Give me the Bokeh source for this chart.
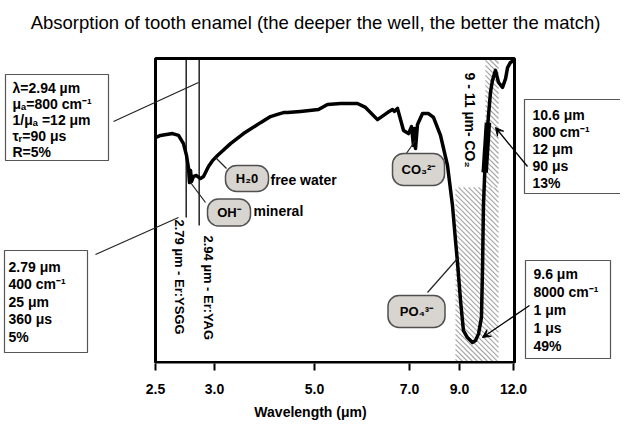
import numpy as np
from math import pi
from bokeh.plotting import figure
from bokeh.models import Range1d, FixedTicker, Arrow, VeeHead
from bokeh.core.properties import value
from bokeh.embed import file_html
from bokeh.resources import INLINE

# ---------------- data ----------------
TITLE = "Absorption of tooth enamel (the deeper the well, the better the match)"
X_LABEL = "Wavelength (μm)"
TICK_WL = [2.5, 3.0, 5.0, 7.0, 9.0, 12.0]
TICK_LABELS = ["2.5", "3.0", "5.0", "7.0", "9.0", "12.0"]

# absorption (transmission-style) curve of tooth enamel, relative units 0..100
CURVE_WL = [2.50, 2.542, 2.644, 2.695, 2.737, 2.763, 2.780, 2.788, 2.797, 2.805,
            2.822, 2.847, 2.881, 2.907, 2.949, 2.983, 3.06, 3.32, 3.58, 3.92,
            4.12, 4.26, 4.38, 4.46, 4.72, 5.084, 5.274, 5.547, 5.905, 6.074,
            6.326, 6.537, 6.642, 6.684, 6.747, 6.874, 6.979, 7.08, 7.16, 7.20,
            7.24, 7.32, 7.52, 7.76, 7.96, 8.24, 8.52, 8.72, 8.84, 8.92,
            9.056, 9.22, 9.44, 9.72, 9.89, 10.06, 10.22, 10.28, 10.33, 10.44,
            10.61, 10.72, 10.83, 11.0, 11.17, 11.39, 11.56, 11.67, 11.83, 12.0]
CURVE_T = [74.0, 74.7, 75.3, 74.7, 72.0, 68.1, 63.8, 59.2, 63.2, 59.5,
           61.2, 61.5, 60.5, 61.2, 64.5, 66.4, 68.1, 72.0, 75.3, 78.9,
           80.9, 81.6, 82.2, 82.2, 82.6, 83.2, 84.9, 85.2, 85.2, 83.9,
           79.9, 82.2, 83.2, 82.6, 83.6, 76.3, 75.3, 77.6, 71.4, 77.0,
           70.4, 78.3, 81.9, 81.9, 80.6, 74.7, 64.8, 51.6, 40.1, 32.9,
           20.4, 10.5, 8.2, 6.6, 7.2, 9.5, 14.8, 31.2, 51.6, 68.1,
           81.2, 88.8, 92.8, 96.1, 92.1, 90.5, 93.4, 97.0, 98.7, 99.3]

# emphasised CO2 laser segment (10.6 um)
THICK_WL = [10.40, 10.58]
THICK_T = [62.5, 78.9]

# Er laser wavelength markers (as drawn) and their lower ends
LASER_WL = [2.76, 2.87]
LASER_LOW_T = [47.7, 45.1]
LASER_LABELS = ["2.79 µm - Er:YSGG", "2.94 µm - Er:YAG"]

# 9 - 11 um CO2 band (hatched)
CO2_NARROW_WL = [10.44, 11.17]
CO2_WIDE_WL = [8.84, 11.17]
CO2_SPLIT_T = 57.6
CO2_LABEL = "9 - 11 µm- CO₂"

BOX_ERYAG = ["λ=2.94 µm", "μₐ=800 cm⁻¹", "1/μₐ =12 μm", "τᵣ=90 μs", "R=5%"]
BOX_ERYSGG = ["2.79 μm", "400 cm⁻¹", "25 μm", "360 μs", "5%"]
BOX_CO2_106 = ["10.6 μm", "800 cm⁻¹", "12 μm", "90 μs", "13%"]
BOX_CO2_96 = ["9.6 μm", "8000 cm⁻¹", "1 μm", "1 μs", "49%"]

BADGES = ["H₂0", "OH⁻", "CO₃²⁻", "PO₄³⁻"]
BADGE_NOTES = ["free water", "mineral"]

# ---------------- layout (screen px of the picture) ----------------
AXIS_PX = [155, 214, 314, 409, 459, 513]  # piecewise axis scale breakpoints
FRAME_L, FRAME_R, FRAME_T, FRAME_B = 155, 514, 58, 362
W, H, MB = 620, 427, 64
FONT = value("Liberation Sans")
HATCH_STEP = 5


def wl2x(wl):
    return np.interp(wl, TICK_WL, AXIS_PX)


def t2py(t):
    return FRAME_B - np.asarray(t, dtype=float) / 100.0 * (FRAME_B - FRAME_T)


def t2y(t):
    return -t2py(t)


def sy(py):
    return -np.asarray(py, dtype=float)


def hatch_lines(x0, x1, py0, py1, step):
    """diagonal '\\' hatch lines clipped to a rectangle given in screen px"""
    xs, ys = [], []
    c = py0 - x1
    while c <= py1 - x0:
        xa = max(x0, py0 - c)
        xb = min(x1, py1 - c)
        if xb > xa:
            xs.append([xa, xb])
            ys.append([-(xa + c), -(xb + c)])
        c += step
    return xs, ys


p = figure(width=W, height=H, x_range=Range1d(0, W),
           y_range=Range1d(-(H - MB), 0),
           output_backend="svg", toolbar_location=None,
           min_border_left=0, min_border_right=0, min_border_top=0,
           min_border_bottom=MB)
p.outline_line_color = None
p.xgrid.visible = False
p.ygrid.visible = False
p.yaxis.visible = False
p.background_fill_color = "white"

tick_px = [float(v) for v in wl2x(TICK_WL)]
ax = p.xaxis[0]
ax.ticker = FixedTicker(ticks=tick_px)
ax.major_label_overrides = {k: s for k, s in zip(tick_px, TICK_LABELS)}
ax.bounds = (tick_px[0], tick_px[-1])
ax.axis_line_color = None
ax.major_tick_line_width = 2
ax.major_tick_line_color = "black"
ax.major_tick_out = 7
ax.major_tick_in = 0
ax.minor_tick_line_color = None
ax.major_label_standoff = 13
ax.major_label_text_font = "Liberation Sans"
ax.major_label_text_font_style = "bold"
ax.major_label_text_font_size = "14px"
ax.major_label_text_color = "black"
ax.axis_label = X_LABEL
ax.axis_label_standoff = 7
ax.axis_label_text_font = "Liberation Sans"
ax.axis_label_text_font_style = "bold"
ax.axis_label_text_font_size = "14px"
ax.axis_label_text_color = "black"

# title
p.text(x=[315], y=sy([22]), text=[TITLE], text_font=FONT, text_font_size="18.5px",
       text_align="center", text_baseline="middle", text_color="black")

# hatched CO2 band
hx, hy = [], []
for (wa, wb), (ta, tb) in [(CO2_NARROW_WL, (100, CO2_SPLIT_T)),
                           (CO2_WIDE_WL, (CO2_SPLIT_T, 0))]:
    xs_, ys_ = hatch_lines(float(wl2x(wa)), float(wl2x(wb)),
                           float(t2py(ta)), float(t2py(tb)), HATCH_STEP)
    hx += xs_
    hy += ys_
p.multi_line(xs=hx, ys=hy, line_color="#a6a6a6", line_width=1.2)

# frame
p.quad(left=[FRAME_L], right=[FRAME_R], top=sy([FRAME_T]), bottom=sy([FRAME_B]),
       fill_color=None, line_color="black", line_width=3)

# laser marker lines
p.segment(x0=wl2x(LASER_WL), y0=t2y([100, 100]), x1=wl2x(LASER_WL),
          y1=t2y(LASER_LOW_T), line_color="black", line_width=1.3)

# curve
p.line(wl2x(CURVE_WL), t2y(CURVE_T), line_color="black", line_width=3.5,
       line_join="round")
p.line(wl2x(THICK_WL), t2y(THICK_T), line_color="black", line_width=6.5)

# rotated labels
p.text(x=[179, 208], y=sy([219, 235]), text=LASER_LABELS, angle=-pi / 2,
       text_font=FONT, text_font_style="bold", text_font_size="13px",
       text_align="left", text_baseline="middle", text_color="black")
p.text(x=[469], y=sy([72]), text=[CO2_LABEL], angle=-pi / 2,
       text_font=FONT, text_font_style="bold", text_font_size="14px",
       text_align="left", text_baseline="middle", text_color="black")

# leader lines (badges and boxes)
lead_x0 = [215, 190, 415, 427, 113, 95]
lead_y0 = [157, 182, 140, 292, 121, 254]
lead_x1 = [226, 205, 403, 457, 198, 178]
lead_y1 = [168, 202, 157, 258, 82, 217]
p.segment(x0=lead_x0, y0=sy(lead_y0), x1=lead_x1, y1=sy(lead_y1),
          line_color="#222222", line_width=1.2)

# badges
bx = [246.5, 228.5, 418, 416]
by = [178, 212, 169, 311]
bw = [43, 43, 52, 57]
bh = [26, 27, 32, 32]
p.rect(x=bx, y=sy(by), width=bw, height=bh, width_units="screen",
       height_units="screen", border_radius=11, fill_color="#d8d4cf",
       line_color="#505050", line_width=1.5)
p.text(x=bx, y=sy(by), text=BADGES, text_font=FONT, text_font_style="bold",
       text_font_size="13px", text_align="center", text_baseline="middle",
       text_color="black")
p.text(x=[270, 253], y=sy([179, 210]), text=BADGE_NOTES, text_font=FONT,
       text_font_style="bold", text_font_size="14px", text_align="left",
       text_baseline="middle", text_color="black")

# info boxes: left, right, top, bottom, text x, first line y, line step
boxes = [(5, 108, 74, 160, 12, 87, 16, BOX_ERYAG),
         (4, 87, 250, 352, 8, 266, 17.5, BOX_ERYSGG),
         (524, 622, 99, 193, 532, 114, 17, BOX_CO2_106),
         (525, 610, 260, 358, 533, 273, 18, BOX_CO2_96)]
for l, r, t, b, tx, ty0, step, lines in boxes:
    p.quad(left=[l], right=[r], top=sy([t]), bottom=sy([b]), fill_color=None,
           line_color="#555555", line_width=1.2)
    p.text(x=[tx] * len(lines), y=sy([ty0 + step * i for i in range(len(lines))]),
           text=lines, text_font=FONT, text_font_style="bold",
           text_font_size="14px", text_align="left", text_baseline="middle",
           text_color="black")

# arrows from right boxes to the curve
for xs, ys, xe, ye in [(527, 166, 495, 127), (529, 305, 482, 337)]:
    p.add_layout(Arrow(end=VeeHead(size=8, fill_color="black", line_color="black"),
                       x_start=xs, y_start=-ys, x_end=xe, y_end=-ye,
                       line_color="black", line_width=1.3))

open("out.html", "w").write(file_html(p, INLINE))
